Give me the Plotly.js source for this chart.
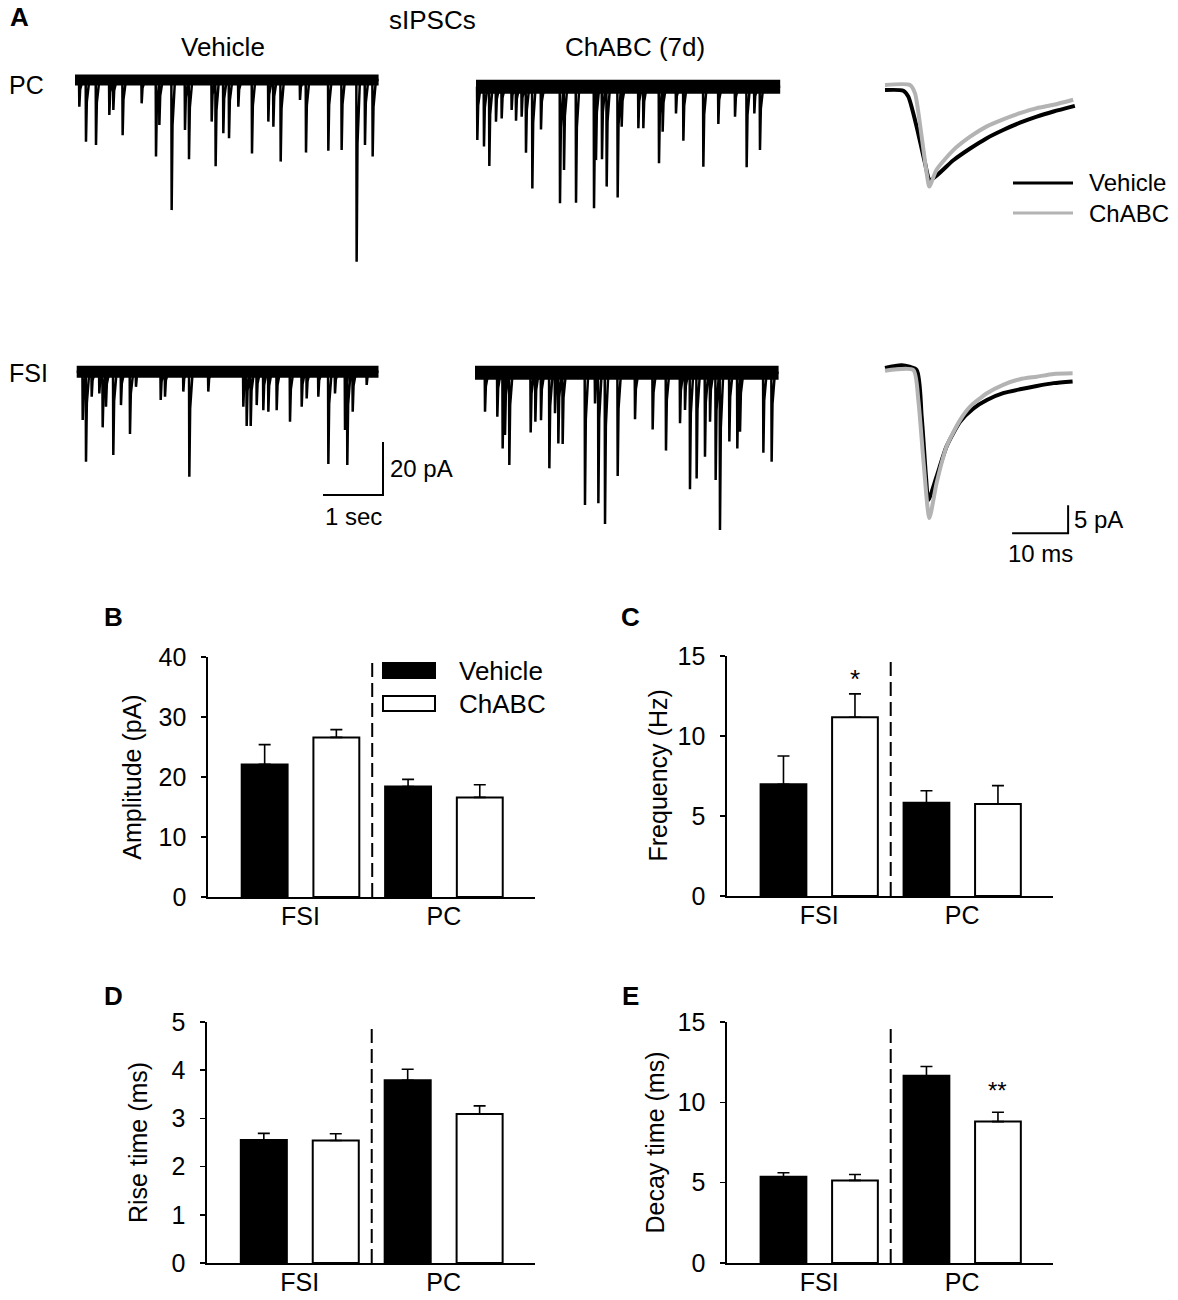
<!DOCTYPE html>
<html><head><meta charset="utf-8">
<script src="https://cdn.plot.ly/plotly-3.0.1.min.js"></script>
<style>html,body{margin:0;padding:0;background:#fff}</style>
</head><body><div id="chart" style="width:1178px;height:1300px"></div>
<script>
const W = 1178, H = 1300;
const FONT = 'Liberation Sans, Arial, Helvetica, sans-serif';

// ---------- Panel A: sIPSC events (time in s, amplitude in pA) ----------
const pcVehTimes = [0.072,0.183,0.35,0.572,0.639,0.794,1.111,1.35,1.406,1.611,1.833,1.9,2.278,2.344,2.472,2.567,2.722,2.95,3.222,3.306,3.428,3.75,3.85,4.222,4.444,4.694,4.833,4.961];
const pcVehAmps  = [10.1,23.3,24.5,13.2,11.3,20.8,8.8,28.9,17.0,49.1,18.9,29.9,15.7,32.5,20.1,22.0,10.1,27.7,15.7,17.6,30.8,7.5,27.4,26.7,26.4,68.6,24.5,28.9];
const pcVehDur = 5.06;

const pcChTimes = [0.022,0.133,0.222,0.333,0.428,0.594,0.667,0.761,0.833,0.939,1.083,1.4,1.467,1.667,1.967,2.0,2.1,2.178,2.361,2.428,2.706,2.789,3.05,3.111,3.333,3.456,3.789,4.039,4.317,4.511,4.639,4.733];
const pcChAmps  = [20.1,22.6,29.9,13.2,12.0,8.8,12.8,11.3,24.9,38.4,16.1,44.0,31.4,43.8,45.9,27.7,27.4,37.7,41.8,15.1,15.7,15.7,28.9,17.0,10.1,20.4,30.2,14.1,11.3,30.4,10.1,23.9];
const pcChDur = 5.07;

const fsiVehTimes = [0.1,0.155,0.25,0.377,0.433,0.488,0.61,0.738,0.888,0.988,1.4,1.472,1.777,1.877,2.193,2.777,2.833,2.9,3.0,3.11,3.194,3.333,3.555,3.75,3.833,4.027,4.194,4.305,4.472,4.51,4.6,4.833];
const fsiVehAmps  = [18.2,34.0,9.4,8.2,21.0,13.2,31.4,12.6,23.5,5.7,10.7,9.4,7.5,39.6,7.5,13.2,20.5,20.5,12.6,14.5,15.1,14.5,18.9,13.2,10.1,9.4,34.8,8.2,22.0,35.2,15.1,5.0];
const fsiVehDur = 5.03;

const fsiChTimes = [0.167,0.372,0.461,0.5,0.572,0.928,1.006,1.1,1.239,1.333,1.389,1.461,1.833,2.0,2.056,2.167,2.378,2.667,2.961,3.183,3.417,3.5,3.583,3.694,3.833,3.917,4.011,4.083,4.239,4.372,4.417,4.806,4.944];
const fsiChAmps  = [14.7,16.6,28.6,23.5,34.8,22.6,18.5,17.9,36.1,15.3,26.7,26.9,49.9,11.6,49.3,57.1,39.0,17.6,21.4,29.4,19.1,14.1,44.0,39.9,31.7,18.5,40.5,59.4,26.0,28.6,22.3,30.2,33.6];
const fsiChDur = 5.06;

// ---------- Panel A: averaged sIPSCs (time in ms, current in pA) ----------
const pcAvgVehT = [0,3.27,4.17,5.65,7.14,8.04,12.2,15.2,18.1,21.1,24.1,27.1,30.1,33.9];
const pcAvgVehI = [-0.36,-0.48,-1.55,-6.9,-13.4,-16.4,-12.9,-10.8,-9.0,-7.5,-6.2,-5.1,-4.2,-3.2];
const pcAvgChT  = [0,4.46,5.36,6.55,7.44,7.92,9.2,12.2,15.2,18.1,21.1,24.1,27.1,30.1,33.6];
const pcAvgChI  = [0.54,0.54,-0.95,-8.7,-15.2,-17.6,-14.6,-11.1,-8.7,-6.9,-5.6,-4.5,-3.6,-3.0,-2.1];
const fsiAvgVehT = [0,2.98,5.65,6.55,7.32,7.74,9.2,11.0,13.4,15.8,18.2,21.1,24.1,27.1,30.1,33.5];
const fsiAvgVehI = [0,0.48,-0.36,-8.7,-19.4,-23.6,-19.4,-14.0,-9.6,-7.2,-5.7,-4.5,-3.8,-3.2,-2.7,-2.4];
const fsiAvgChT  = [0,5.06,5.95,6.85,7.92,9.2,11.0,13.4,15.2,18.2,21.1,24.1,27.1,30.1,33.5];
const fsiAvgChI  = [-0.48,-0.36,-5.7,-16.4,-26.8,-20.6,-14.0,-9.3,-6.9,-4.5,-3.0,-2.0,-1.55,-1.07,-0.95];

// ---------- Panels B-E: bar data ----------
const groups = ['FSI', 'PC'];
const seriesNames = ['Vehicle', 'ChABC'];
const ampVeh = [22.1, 18.4],   ampVehErr = [3.3, 1.2];
const ampCh  = [26.6, 16.6],   ampChErr  = [1.3, 2.1];
const freqVeh = [6.98, 5.83],  freqVehErr = [1.77, 0.75];
const freqCh  = [11.17, 5.75], freqChErr  = [1.46, 1.15];
const riseVeh = [2.55, 3.79],  riseVehErr = [0.14, 0.23];
const riseCh  = [2.54, 3.09],  riseChErr  = [0.14, 0.17];
const decayVeh = [5.37, 11.65], decayVehErr = [0.25, 0.58];
const decayCh  = [5.14, 8.8],   decayChErr  = [0.37, 0.58];

// ---------- helpers ----------
const px = x => x / W;
const py = y => 1 - y / H;
const layout = {
  width: W, height: H, margin: {l:0, r:0, t:0, b:0},
  paper_bgcolor: '#fff', plot_bgcolor: 'rgba(0,0,0,0)',
  showlegend: false, barmode: 'group', bargap: 0, bargroupgap: 0.36,
  font: {family: FONT, color: '#000'},
  annotations: [], shapes: []
};
const data = [];
const ax = n => n === 1 ? '' : String(n);

function traceAxes(n, t0px, basepx, x0, x1, y0, y1, sx, sy) {
  layout['xaxis' + ax(n)] = {domain: [px(x0), px(x1)], range: [(x0 - t0px) / sx, (x1 - t0px) / sx], visible: false, anchor: 'y' + ax(n)};
  layout['yaxis' + ax(n)] = {domain: [py(y1), py(y0)], range: [-(y1 - basepx) / sy, (basepx - y0) / sy], visible: false, anchor: 'x' + ax(n)};
}

function spikes(n, times, amps, dur, band) {
  const xs = [0], ys = [0];
  times.forEach((t, i) => {
    const a = amps[i];
    xs.push(t - 0.005, t, t + 0.014, t + 0.055);
    ys.push(0, -a, -a * 0.35, 0);
  });
  xs.push(dur); ys.push(0);
  data.push({type: 'scatter', mode: 'lines', x: [0, dur], y: [0, 0], xaxis: 'x' + ax(n), yaxis: 'y' + ax(n), line: {color: '#000', width: band}, hoverinfo: 'skip'});
  data.push({type: 'scatter', mode: 'lines', x: xs, y: ys, xaxis: 'x' + ax(n), yaxis: 'y' + ax(n), line: {color: '#000', width: 2.5}, hoverinfo: 'skip'});
}

const SX = 60, SY = 2.65;      // px per s, px per pA (raw traces)
traceAxes(1, 75, 80, 68, 400, 55, 280, SX, SY);
traceAxes(2, 476, 86.7, 468, 800, 55, 240, SX, SY);
traceAxes(3, 76.7, 371.7, 68, 400, 340, 520, SX, SY);
traceAxes(4, 475, 372.7, 468, 800, 340, 545, SX, SY);
spikes(1, pcVehTimes, pcVehAmps, pcVehDur, 11);
spikes(2, pcChTimes, pcChAmps, pcChDur, 14);
spikes(3, fsiVehTimes, fsiVehAmps, fsiVehDur, 12);
spikes(4, fsiChTimes, fsiChAmps, fsiChDur, 14);

// scale bar (raw): 1 sec, 20 pA
const rawBarSec = 1, rawBarPA = 20;
const rc = {t: 5.105, i: -46.5};
data.push({type: 'scatter', mode: 'lines', x: [rc.t - rawBarSec, rc.t, rc.t], y: [rc.i, rc.i, rc.i + rawBarPA], xaxis: 'x3', yaxis: 'y3', line: {color: '#000', width: 2}, hoverinfo: 'skip'});
layout.annotations.push({xref: 'x3', yref: 'y3', x: rc.t, y: rc.i + rawBarPA / 2, text: rawBarPA + ' pA', showarrow: false, xanchor: 'left', yanchor: 'middle', xshift: 5, font: {size: 24}});
layout.annotations.push({xref: 'x3', yref: 'y3', x: rc.t - rawBarSec / 2, y: rc.i, text: rawBarSec + ' sec', showarrow: false, xanchor: 'center', yanchor: 'top', yshift: -6, font: {size: 24}});

// averaged traces
const AS = 5.6;
traceAxes(5, 885, 88, 875, 1090, 70, 205, AS, AS);
traceAxes(6, 885, 368, 875, 1090, 350, 545, AS, AS);
const GRAY = '#b3b3b3';
data.push({type: 'scatter', mode: 'lines', x: pcAvgVehT, y: pcAvgVehI, xaxis: 'x5', yaxis: 'y5', line: {color: '#000', width: 4, shape: 'spline', smoothing: 0.6}});
data.push({type: 'scatter', mode: 'lines', x: pcAvgChT, y: pcAvgChI, xaxis: 'x5', yaxis: 'y5', line: {color: GRAY, width: 4, shape: 'spline', smoothing: 0.6}});
data.push({type: 'scatter', mode: 'lines', x: fsiAvgVehT, y: fsiAvgVehI, xaxis: 'x6', yaxis: 'y6', line: {color: '#000', width: 4, shape: 'spline', smoothing: 0.6}});
data.push({type: 'scatter', mode: 'lines', x: fsiAvgChT, y: fsiAvgChI, xaxis: 'x6', yaxis: 'y6', line: {color: GRAY, width: 4, shape: 'spline', smoothing: 0.6}});
const avgBarMs = 10, avgBarPA = 5;
const ac = {t: 32.7, i: -29.5};
data.push({type: 'scatter', mode: 'lines', x: [ac.t - avgBarMs, ac.t, ac.t], y: [ac.i, ac.i, ac.i + avgBarPA], xaxis: 'x6', yaxis: 'y6', line: {color: '#000', width: 2}, hoverinfo: 'skip'});
layout.annotations.push({xref: 'x6', yref: 'y6', x: ac.t, y: ac.i + avgBarPA / 2, text: avgBarPA + ' pA', showarrow: false, xanchor: 'left', yanchor: 'middle', xshift: 4, font: {size: 24}});
layout.annotations.push({xref: 'x6', yref: 'y6', x: ac.t - avgBarMs / 2, y: ac.i, text: avgBarMs + ' ms', showarrow: false, xanchor: 'center', yanchor: 'top', yshift: -5, font: {size: 24}});

// avg legend
[[183, '#000', seriesNames[0]], [213, GRAY, seriesNames[1]]].forEach(([yy, c, name]) => {
  layout.shapes.push({type: 'line', xref: 'paper', yref: 'paper', x0: px(1013), x1: px(1073), y0: py(yy), y1: py(yy), line: {color: c, width: 3}});
  layout.annotations.push({xref: 'paper', yref: 'paper', x: px(1087), y: py(yy), text: name, showarrow: false, xanchor: 'left', yanchor: 'middle', font: {size: 24}});
});

// ---------- bar panels ----------
function barPanel(n, x0, x1, y0, y1, ymax, dtick, veh, vehErr, ch, chErr, title, titleX) {
  const k = ax(n);
  layout['xaxis' + k] = {domain: [px(x0), px(x1)], type: 'category', range: [-0.645, 1.635], anchor: 'y' + k,
    showline: true, linecolor: '#000', linewidth: 1.6, ticks: '', showgrid: false, zeroline: false,
    tickfont: {size: 25, family: FONT, color: '#000'}, ticklabelstandoff: -4};
  layout['yaxis' + k] = {domain: [py(y1), py(y0)], range: [0, ymax], dtick: dtick, anchor: 'x' + k,
    showline: true, linecolor: '#000', linewidth: 1.6, ticks: 'outside', ticklen: 5, tickwidth: 1.5, tickcolor: '#000',
    showgrid: false, zeroline: false, tickfont: {size: 25, family: FONT, color: '#000'}, ticklabelstandoff: 10};
  const mk = (vals, errs, fill, name) => ({type: 'bar', name: name, x: groups, y: vals, xaxis: 'x' + k, yaxis: 'y' + k,
    marker: {color: fill, line: {color: '#000', width: 2}},
    error_y: {type: 'data', array: errs, arrayminus: errs.map(() => 0), symmetric: false, color: '#000', thickness: 1.6, width: 6}});
  data.push(mk(veh, vehErr, '#000', seriesNames[0]));
  data.push(mk(ch, chErr, '#fff', seriesNames[1]));
  layout.shapes.push({type: 'line', xref: 'x' + k, yref: 'y' + k + ' domain', x0: 0.5, x1: 0.5, y0: 0, y1: 0.98,
    line: {color: '#000', width: 2, dash: '14px,6px'}});
  layout.annotations.push({xref: 'paper', yref: 'paper', x: px(titleX), y: py((y0 + y1) / 2), text: title, textangle: -90,
    showarrow: false, xanchor: 'center', yanchor: 'middle', font: {size: 25}});
}
barPanel(7, 208, 535, 657, 897, 40, 10, ampVeh, ampVehErr, ampCh, ampChErr, 'Amplitude (pA)', 131.7);
barPanel(8, 727, 1053, 656, 896, 15, 5, freqVeh, freqVehErr, freqCh, freqChErr, 'Frequency (Hz)', 657.5);
barPanel(9, 207, 535, 1022, 1263, 5, 1, riseVeh, riseVehErr, riseCh, riseChErr, 'Rise time (ms)', 137.5);
barPanel(10, 727, 1053, 1022, 1263, 15, 5, decayVeh, decayVehErr, decayCh, decayChErr, 'Decay time (ms)', 654);

// significance marks
layout.annotations.push({xref: 'x8', yref: 'y8', x: 0.25, y: freqCh[0] + freqChErr[0], text: '*', showarrow: false, xanchor: 'center', yanchor: 'bottom', yshift: -2, font: {size: 26}});
layout.annotations.push({xref: 'x10', yref: 'y10', x: 1.25, y: decayCh[1] + decayChErr[1], text: '**', showarrow: false, xanchor: 'center', yanchor: 'bottom', yshift: 6, font: {size: 24}});

// bar legend (panel B)
layout.shapes.push({type: 'rect', xref: 'paper', yref: 'paper', x0: px(383), x1: px(435), y0: py(678), y1: py(663), fillcolor: '#000', line: {color: '#000', width: 2}});
layout.shapes.push({type: 'rect', xref: 'paper', yref: 'paper', x0: px(383), x1: px(435), y0: py(711), y1: py(696), fillcolor: '#fff', line: {color: '#000', width: 2}});
layout.annotations.push({xref: 'paper', yref: 'paper', x: px(457), y: py(670.5), text: seriesNames[0], showarrow: false, xanchor: 'left', yanchor: 'middle', font: {size: 26}});
layout.annotations.push({xref: 'paper', yref: 'paper', x: px(457), y: py(703.5), text: seriesNames[1], showarrow: false, xanchor: 'left', yanchor: 'middle', font: {size: 26}});

// ---------- labels ----------
const lbl = (x, y, t, size, anchor, bold) => layout.annotations.push({xref: 'paper', yref: 'paper', x: px(x), y: py(y),
  text: bold ? '<b>' + t + '</b>' : t, showarrow: false, xanchor: anchor, yanchor: 'middle', font: {size: size}});
lbl(8, 17, 'A', 26, 'left', true);
lbl(113, 617, 'B', 26, 'center', true);
lbl(630, 617, 'C', 26, 'center', true);
lbl(113, 996, 'D', 26, 'center', true);
lbl(630, 996, 'E', 26, 'center', true);
lbl(432, 20, 'sIPSCs', 26, 'center');
lbl(223, 47, 'Vehicle', 26, 'center');
lbl(635, 47, 'ChABC (7d)', 26, 'center');
lbl(7, 85, 'PC', 25, 'left');
lbl(7, 373, 'FSI', 25, 'left');

Plotly.newPlot('chart', data, layout, {displayModeBar: false, staticPlot: true});
</script>
</body></html>
